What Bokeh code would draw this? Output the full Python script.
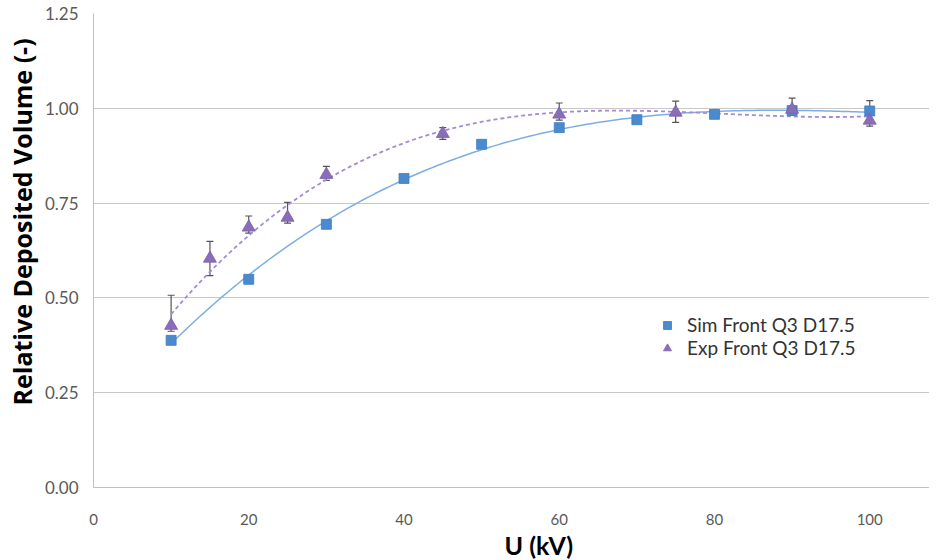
import numpy as np
from bokeh.plotting import figure
from bokeh.models import (ColumnDataSource, Whisker, Legend, LegendItem, Range1d,
                          SingleIntervalTicker, NumeralTickFormatter, TeeHead, Title)
from bokeh.embed import file_html
from bokeh.resources import INLINE

# data
sim_u = [10, 20, 30, 40, 50, 60, 70, 80, 90, 100]
sim_v = [0.388, 0.549, 0.694, 0.815, 0.905, 0.949, 0.970, 0.984, 0.994, 0.993]
exp_u = [10, 15, 20, 25, 30, 45, 60, 75, 90, 100]
exp_v = [0.427, 0.604, 0.686, 0.712, 0.825, 0.933, 0.984, 0.989, 0.997, 0.968]
exp_err_up = [0.080, 0.045, 0.030, 0.040, 0.022, 0.016, 0.030, 0.030, 0.030, 0.052]
exp_err_lo = [0.015, 0.045, 0.015, 0.015, 0.015, 0.015, 0.015, 0.026, 0.015, 0.015]
sim_label = "Sim Front Q3 D17.5"
exp_label = "Exp Front Q3 D17.5"
x_ticks = [0, 20, 40, 60, 80, 100]

FONT = "Lato"
p = figure(frame_width=836, frame_height=474, output_backend="svg", toolbar_location=None,
           x_range=Range1d(0, 107.7), y_range=Range1d(0, 1.25),
           min_border_left=10, min_border_right=0, min_border_top=13, min_border_bottom=10)
p.outline_line_color = None
p.background_fill_color = "white"

# trendlines (polynomial fit of the data, like a spreadsheet trendline)
xs_sim = np.linspace(min(sim_u), max(sim_u), 200)
ys_sim = np.polyval(np.polyfit(sim_u, sim_v, 3), xs_sim)
xs_exp = np.linspace(min(exp_u), max(exp_u), 200)
ys_exp = np.polyval(np.polyfit(exp_u, exp_v, 3), xs_exp)
p.line(xs_sim, ys_sim, line_color="#7DAEE3", line_width=1.5)
p.line(xs_exp, ys_exp, line_color="#A48BD4", line_width=1.8, line_dash="4 3")

# error bars
src_exp = ColumnDataSource(dict(u=exp_u, v=exp_v,
                                lo=[v - e for v, e in zip(exp_v, exp_err_lo)],
                                hi=[v + e for v, e in zip(exp_v, exp_err_up)]))
w = Whisker(source=src_exp, base="u", lower="lo", upper="hi",
            line_color="#555555", line_width=1.2,
            upper_head=TeeHead(size=7, line_color="#555555", line_width=1.2),
            lower_head=TeeHead(size=7, line_color="#555555", line_width=1.2))
p.add_layout(w)

r_sim = p.scatter(sim_u, sim_v, marker="square", size=10, fill_color="#4A8BD0",
                  line_color="#3E7CC0", line_width=0.8)
r_exp = p.scatter("u", "v", source=src_exp, marker="triangle", size=13,
                  fill_color="#8A6DB8", line_color="#7A5EA8", line_width=0.8)

# axes
p.xaxis.ticker = x_ticks
p.yaxis.ticker = SingleIntervalTicker(interval=0.25)
p.yaxis.formatter = NumeralTickFormatter(format="0.00")
for ax in (p.xaxis[0], p.yaxis[0]):
    ax.axis_line_color = "#BFBFBF"
    ax.major_tick_line_color = None
    ax.minor_tick_line_color = None
    ax.major_label_text_font = FONT
    ax.major_label_text_color = "#595959"
p.xaxis.major_label_text_font_size = "15px"
p.yaxis.major_label_text_font_size = "17px"
p.xaxis.major_label_standoff = 20
p.yaxis.major_label_standoff = 9
p.xgrid.grid_line_color = None
p.ygrid.grid_line_color = "#C8C8C8"
p.ygrid.grid_line_width = 1.2

ytitle = Title(text="Relative Deposited Volume (-)", align="left", offset=82,
               text_font="Open Sans", text_font_size="25px", text_font_style="bold",
               text_color="#000000", standoff=5)
p.add_layout(ytitle, "left")
xtitle = Title(text="U (kV)", align="left", offset=411,
               text_font=FONT, text_font_size="25px", text_font_style="bold",
               text_color="#000000", standoff=0)
p.add_layout(xtitle, "below")

legend = Legend(items=[LegendItem(label=sim_label, renderers=[r_sim]),
                       LegendItem(label=exp_label, renderers=[r_exp])],
                location=(564, 128), border_line_color=None,
                background_fill_alpha=0, label_text_font=FONT,
                label_text_font_size="19px", label_text_color="#333333",
                glyph_width=20, glyph_height=20, label_height=20, spacing=0,
                padding=5, label_standoff=10)
p.add_layout(legend, "center")

open("out.html", "w").write(file_html(p, INLINE))
